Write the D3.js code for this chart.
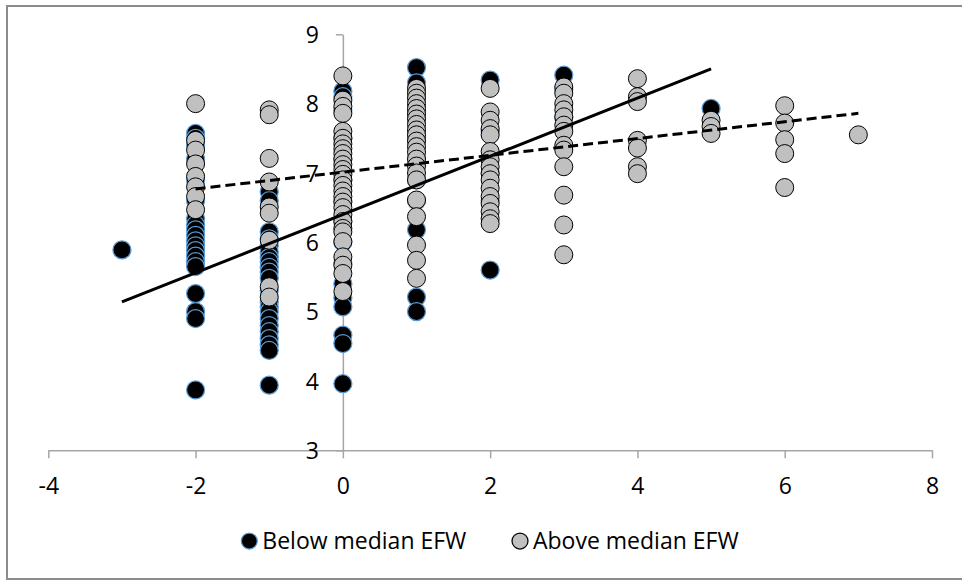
<!DOCTYPE html>
<html>
<head>
<meta charset="utf-8">
<script src="https://cdn.jsdelivr.net/npm/d3@7"></script>
<style>
  html, body { margin: 0; padding: 0; background: #fff; }
  svg { display: block; font-family: "Open Sans", sans-serif; }
</style>
</head>
<body>
<script>
// Chart data
var belowEFW = [
  [-3, 5.89],
  [-2, 7.57], [-2, 7.50], [-2, 7.40], [-2, 7.20], [-2, 6.90], [-2, 6.60], [-2, 6.34], [-2, 6.25],
  [-2, 6.18], [-2, 6.10], [-2, 6.02], [-2, 5.95], [-2, 5.88], [-2, 5.80], [-2, 5.72], [-2, 5.65],
  [-2, 5.26], [-2, 5.00], [-2, 4.90], [-2, 3.87],
  [-1, 6.73], [-1, 6.60], [-1, 6.15], [-1, 6.05], [-1, 5.95], [-1, 5.86], [-1, 5.78], [-1, 5.72],
  [-1, 5.64], [-1, 5.57], [-1, 5.48], [-1, 5.30], [-1, 5.14], [-1, 5.07], [-1, 5.00], [-1, 4.90],
  [-1, 4.80], [-1, 4.71], [-1, 4.61], [-1, 4.52], [-1, 4.44], [-1, 3.94],
  [0, 8.18], [0, 8.10], [0, 7.90], [0, 7.50], [0, 7.20], [0, 6.90], [0, 6.60], [0, 6.30], [0, 6.00],
  [0, 5.70], [0, 5.40], [0, 5.20], [0, 5.07], [0, 4.66], [0, 4.54], [0, 3.96],
  [1, 8.52], [1, 8.30], [1, 7.90], [1, 7.50], [1, 7.20], [1, 6.90], [1, 6.60], [1, 6.18], [1, 5.21], [1, 5.00],
  [2, 8.34], [2, 7.60], [2, 7.00], [2, 6.60], [2, 5.60],
  [3, 8.41], [3, 8.20], [3, 7.80],
  [5, 7.93]
];

var aboveEFW = [
  [-2, 8.00], [-2, 7.47], [-2, 7.33], [-2, 7.13], [-2, 6.95], [-2, 6.80], [-2, 6.66], [-2, 6.47],
  [-1, 7.91], [-1, 7.84], [-1, 7.21], [-1, 6.87], [-1, 6.51], [-1, 6.42], [-1, 6.03], [-1, 5.36], [-1, 5.21],
  [0, 8.40], [0, 8.05], [0, 7.96], [0, 7.86], [0, 7.60], [0, 7.50], [0, 7.42], [0, 7.35], [0, 7.28],
  [0, 7.20], [0, 7.12], [0, 7.05], [0, 6.98], [0, 6.90], [0, 6.82], [0, 6.74], [0, 6.66], [0, 6.58],
  [0, 6.50], [0, 6.40], [0, 6.30], [0, 6.20], [0, 6.15], [0, 6.01], [0, 5.79], [0, 5.67], [0, 5.55], [0, 5.29],
  [1, 8.22], [1, 8.15], [1, 8.08], [1, 8.00], [1, 7.93], [1, 7.85], [1, 7.78], [1, 7.70], [1, 7.62],
  [1, 7.55], [1, 7.46], [1, 7.38], [1, 7.30], [1, 7.20], [1, 7.10], [1, 7.00], [1, 6.90], [1, 6.61],
  [1, 6.37], [1, 5.96], [1, 5.74], [1, 5.48],
  [2, 8.22], [2, 7.88], [2, 7.76], [2, 7.64], [2, 7.55], [2, 7.31], [2, 7.19], [2, 7.09], [2, 6.99],
  [2, 6.90], [2, 6.78], [2, 6.66], [2, 6.56], [2, 6.44], [2, 6.34], [2, 6.27],
  [3, 8.24], [3, 8.15], [3, 8.00], [3, 7.91], [3, 7.81], [3, 7.69], [3, 7.60], [3, 7.40], [3, 7.33],
  [3, 7.09], [3, 6.68], [3, 6.25], [3, 5.82],
  [4, 8.36], [4, 8.10], [4, 8.03], [4, 7.47], [4, 7.36], [4, 7.09], [4, 6.99],
  [5, 7.76], [5, 7.67], [5, 7.57],
  [6, 7.97], [6, 7.72], [6, 7.48], [6, 7.28], [6, 6.79],
  [7, 7.55]
];

// linear trendline end points
var trendBelow = [[-3, 5.14], [5, 8.50]];
var trendAbove = [[-2, 6.77], [7, 7.86]];

var xTicks = [-4, -2, 0, 2, 4, 6, 8];
var yTicks = [3, 4, 5, 6, 7, 8, 9];
var seriesNames = ["Below median EFW", "Above median EFW"];

var W = 962, H = 581;
var AXIS_GREY = "#a6a6a6";
var FONT_SIZE = "23px";

var svg = d3.select("body").append("svg")
  .attr("width", W)
  .attr("height", H);

// outer chart frame (runs off the right edge in the original)
svg.append("rect")
  .attr("x", 7).attr("y", 6)
  .attr("width", 980).attr("height", 573)
  .attr("fill", "none")
  .attr("stroke", "#8c8c8c")
  .attr("stroke-width", 2);

var x = d3.scaleLinear().domain([-4, 8]).range([48.3, 932]);
var y = d3.scaleLinear().domain([3, 9]).range([450.3, 34.3]);

// plain hyphen for negatives, like the original
function plain(d) { return String(d); }

// x axis along y = 3
var xAxis = svg.append("g")
  .attr("transform", "translate(0," + y(3) + ")")
  .call(d3.axisBottom(x).tickValues(xTicks).tickSize(8).tickSizeOuter(0).tickPadding(19)
    .tickFormat(plain));

// y axis crossing at x = 0
var yAxis = svg.append("g")
  .attr("transform", "translate(" + x(0) + ",0)")
  .call(d3.axisLeft(y).tickValues(yTicks).tickSize(7).tickSizeOuter(0).tickPadding(17)
    .tickFormat(plain));

[xAxis, yAxis].forEach(function(g) {
  g.select(".domain").attr("stroke", AXIS_GREY).attr("stroke-width", 1.5);
  g.selectAll(".tick line").attr("stroke", AXIS_GREY).attr("stroke-width", 1.5);
  g.selectAll(".tick text")
    .attr("fill", "#000")
    .style("font-family", "'Open Sans', sans-serif")
    .style("font-size", FONT_SIZE);
});
xAxis.selectAll(".tick text").attr("dy", "0.71em");
yAxis.selectAll(".tick text").attr("dy", "0.36em");

// markers
svg.append("g").selectAll("circle")
  .data(belowEFW)
  .enter().append("circle")
  .attr("cx", function(d) { return x(d[0]); })
  .attr("cy", function(d) { return y(d[1]); })
  .attr("r", 9)
  .attr("fill", "#000")
  .attr("stroke", "#5b9bd5")
  .attr("stroke-width", 1.25);

svg.append("g").selectAll("circle")
  .data(aboveEFW)
  .enter().append("circle")
  .attr("cx", function(d) { return x(d[0]); })
  .attr("cy", function(d) { return y(d[1]); })
  .attr("r", 9)
  .attr("fill", "#c0c0c0")
  .attr("stroke", "#000")
  .attr("stroke-width", 1);

// trendlines
var line = d3.line()
  .x(function(d) { return x(d[0]); })
  .y(function(d) { return y(d[1]); });

svg.append("path")
  .attr("d", line(trendBelow))
  .attr("fill", "none")
  .attr("stroke", "#000")
  .attr("stroke-width", 3);

svg.append("path")
  .attr("d", line(trendAbove))
  .attr("fill", "none")
  .attr("stroke", "#000")
  .attr("stroke-width", 3)
  .attr("stroke-dasharray", "10,5");

// legend
var legend = svg.append("g").attr("transform", "translate(0,541)");
var legendItems = [
  {name: seriesNames[0], cx: 249.3, fill: "#000", stroke: "#5b9bd5"},
  {name: seriesNames[1], cx: 520, fill: "#c0c0c0", stroke: "#000"}
];
legendItems.forEach(function(item) {
  legend.append("circle")
    .attr("cx", item.cx).attr("cy", 0).attr("r", 8)
    .attr("fill", item.fill)
    .attr("stroke", item.stroke)
    .attr("stroke-width", 1.25);
  legend.append("text")
    .attr("x", item.cx + 13)
    .attr("y", 0)
    .attr("dy", "0.36em")
    .style("font-size", FONT_SIZE)
    .text(item.name);
});
</script>
</body>
</html>
